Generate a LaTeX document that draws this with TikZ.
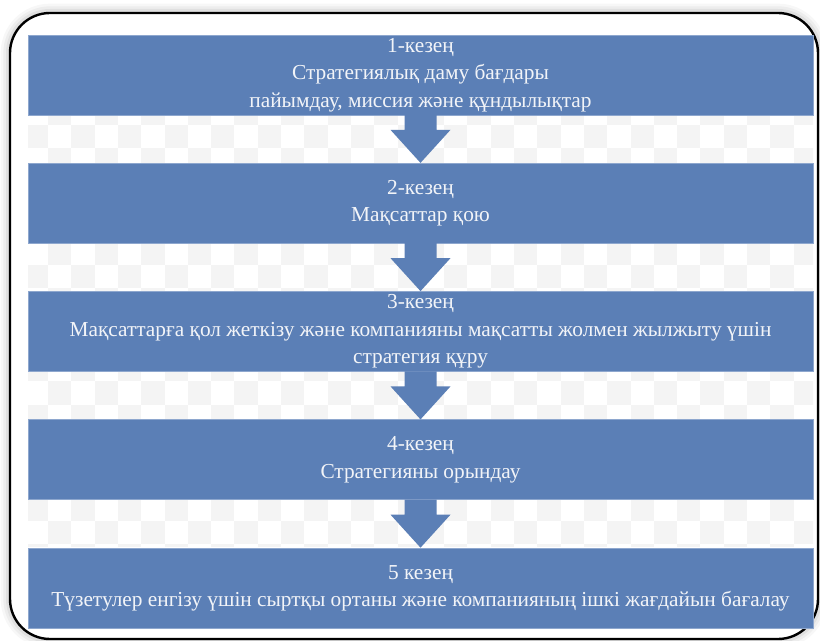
\documentclass[tikz,border=0pt]{standalone}
\usepackage{fontspec}
\setmainfont{Liberation Serif}
\usetikzlibrary{positioning}
\definecolor{stageblue}{HTML}{5B7FB6}
\definecolor{stageedge}{HTML}{8EA7CE}
\definecolor{stagetext}{HTML}{F2F4F8}
\definecolor{checkgray}{HTML}{F4F4F4}
\tikzset{
  stage/.style={fill=stageblue, draw=stageedge, line width=0.6pt, text=stagetext,
    minimum width=588.75pt, minimum height=60pt, align=center, inner sep=0pt,
    font=\fontsize{16}{20.5}\selectfont},
  stagearrow/.style={fill=stageblue},
  frame/.style={line width=1.8pt, rounded corners=30pt},
}
\begin{document}
\begin{tikzpicture}[x=0.75pt,y=-0.75pt,node distance=35.6pt]
  \useasboundingbox[fill=white] (0,0) rectangle (820,641);
  % soft glow round the frame
  \foreach \w/\o in {14/0.03,10/0.04,6/0.05}
    \draw[line width=\w pt, rounded corners=30pt, black, opacity=\o] (10,13) rectangle (818,639);
  \fill[white, rounded corners=30pt] (10,13) rectangle (818,639);
  % transparency checker behind the stages
  \begin{scope}
    \clip (28,115) rectangle (813,546);
    \foreach \n in {-1,...,19} {
      \pgfmathtruncatemacro\s{mod(\n+100,2)}
      \pgfmathtruncatemacro\t{\s+2}
      \foreach \k in {\s,\t,...,34}
        \fill[checkgray] (24.7+23.3*\k,125+23.3*\n) rectangle ++(23.3,23.3);
    }
  \end{scope}
  \draw[frame] (10,13) rectangle (818,639);
  % stages
  \node[stage] (stage1) at (420.5,75) {1-кезең\\Стратегиялық даму бағдары\\пайымдау, миссия және құндылықтар};
  \node[stage, below=of stage1] (stage2) {2-кезең\\Мақсаттар қою};
  \node[stage, below=of stage2] (stage3) {3-кезең\\Мақсаттарға қол жеткізу және компанияны мақсатты жолмен жылжыту үшін\\стратегия құру};
  \node[stage, below=of stage3] (stage4) {4-кезең\\Стратегияны орындау};
  \node[stage, below=of stage4] (stage5) {5 кезең\\Түзетулер енгізу үшін сыртқы ортаны және компанияның ішкі жағдайын бағалау};
  % block arrows
  \foreach \a/\b in {stage1/stage2,stage2/stage3,stage3/stage4,stage4/stage5}
    \fill[stagearrow] ([xshift=-12pt,yshift=0.5pt]\a.south) -- ([xshift=-12pt,yshift=24.75pt]\b.north)
      -- ([xshift=-22.5pt,yshift=24.75pt]\b.north) -- (\b.north)
      -- ([xshift=22.5pt,yshift=24.75pt]\b.north) -- ([xshift=12pt,yshift=24.75pt]\b.north)
      -- ([xshift=12pt,yshift=0.5pt]\a.south) -- cycle;
\end{tikzpicture}
\end{document}
